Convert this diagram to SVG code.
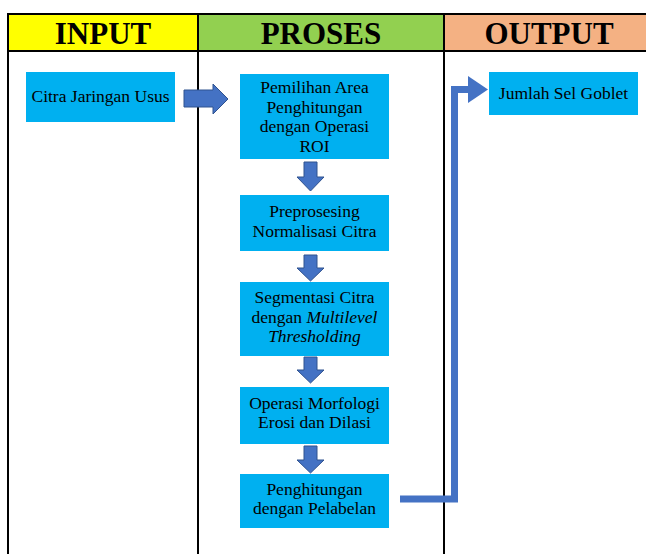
<svg xmlns="http://www.w3.org/2000/svg" width="646" height="554" viewBox="0 0 646 554">
<style>
.hd{font-family:"Liberation Serif","Times New Roman",serif;font-weight:bold;font-size:31px;text-anchor:middle;fill:#000}
.box{fill:#00B0F0}
.t{font-family:"Liberation Serif","Times New Roman",serif;font-size:17.5px;text-anchor:middle;fill:#000}
.grid{stroke:#000;stroke-width:2;fill:none}
.blk{fill:#4472C4;stroke:#2F528F;stroke-width:1}
</style>
<rect width="646" height="554" fill="#fff"/>
<g id="table">
<rect x="8" y="14" width="190" height="37" fill="#FFFF00"/>
<rect x="198" y="14" width="246" height="37" fill="#92D050"/>
<rect x="444" y="14" width="202" height="37" fill="#F4B183"/>
<line class="grid" x1="8" y1="14" x2="646" y2="14"/>
<line class="grid" x1="8" y1="51" x2="646" y2="51"/>
<line class="grid" x1="8" y1="13" x2="8" y2="554"/>
<line class="grid" x1="198" y1="13" x2="198" y2="554"/>
<line class="grid" x1="444" y1="13" x2="444" y2="554"/>
<text class="hd" x="103" y="44">INPUT</text>
<text class="hd" x="321" y="44">PROSES</text>
<text class="hd" x="549" y="44">OUTPUT</text>
</g>
<g id="connectors">
<path class="blk" d="M184,90 H213 V84 L228,99 L213,114 V107 H184 Z"/>
<path class="blk" d="M304,162 H317 V177 H324 L310.5,191 L297,177 H304 Z"/>
<path class="blk" d="M304,255 H317 V268 H324 L310.5,281 L297,268 H304 Z"/>
<path class="blk" d="M304,357 H317 V370 H324 L310.5,383 L297,370 H304 Z"/>
<path class="blk" d="M304,446 H317 V460 H324 L310.5,473 L297,460 H304 Z"/>
<path d="M400,499 H454.5 V89.5 H470" fill="none" stroke="#4472C4" stroke-width="7"/>
<path d="M468,76 L488,89.5 L468,103 Z" fill="#4472C4"/>
</g>
<g id="n1"><rect class="box" x="26" y="72" width="149" height="50"/><text class="t" x="100.5" y="102">Citra Jaringan Usus</text></g>
<g id="n2"><rect class="box" x="240" y="74" width="149" height="85"/>
<text class="t" x="314.5" y="93">Pemilihan Area</text>
<text class="t" x="314.5" y="112.5">Penghitungan</text>
<text class="t" x="314.5" y="132">dengan Operasi</text>
<text class="t" x="314.5" y="151.5">ROI</text></g>
<g id="n3"><rect class="box" x="240" y="195" width="149" height="56"/>
<text class="t" x="314.5" y="217">Preprosesing</text>
<text class="t" x="314.5" y="236.5">Normalisasi Citra</text></g>
<g id="n4"><rect class="box" x="240" y="282" width="149" height="74"/>
<text class="t" x="314.5" y="303">Segmentasi Citra</text>
<text class="t" x="314.5" y="322.5">dengan <tspan font-style="italic">Multilevel</tspan></text>
<text class="t" x="314.5" y="342" font-style="italic">Thresholding</text></g>
<g id="n5"><rect class="box" x="240" y="387" width="149" height="57"/>
<text class="t" x="314.5" y="408.5">Operasi Morfologi</text>
<text class="t" x="314.5" y="428">Erosi dan Dilasi</text></g>
<g id="n6"><rect class="box" x="240" y="474" width="149" height="54"/>
<text class="t" x="314.5" y="494.5">Penghitungan</text>
<text class="t" x="314.5" y="514">dengan Pelabelan</text></g>
<g id="n7"><rect class="box" x="489" y="72" width="149" height="43"/>
<text class="t" x="563.5" y="98.5">Jumlah Sel Goblet</text></g>
</svg>
